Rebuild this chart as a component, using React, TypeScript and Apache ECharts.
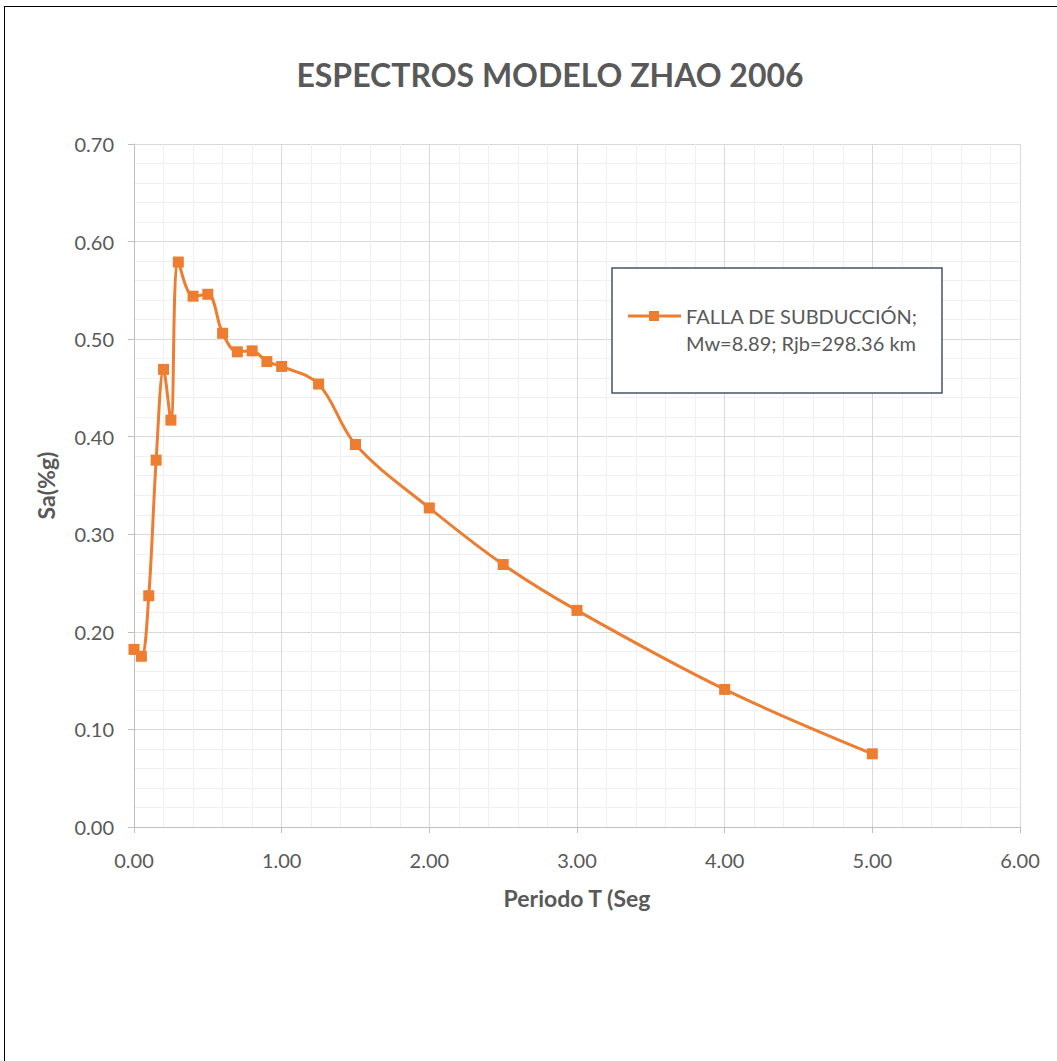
import React, { useEffect, useRef } from "react";
import * as echarts from "echarts";

const periods = [0, 0.05, 0.1, 0.15, 0.2, 0.25, 0.3, 0.4, 0.5, 0.6, 0.7, 0.8, 0.9, 1.0, 1.25, 1.5, 2.0, 2.5, 3.0, 4.0, 5.0];
const saValues = [0.182, 0.175, 0.237, 0.376, 0.469, 0.417, 0.579, 0.544, 0.546, 0.506, 0.487, 0.488, 0.477, 0.472, 0.454, 0.392, 0.327, 0.269, 0.222, 0.141, 0.075];
const seriesName = "FALLA DE SUBDUCCIÓN; Mw=8.89; Rjb=298.36 km";
const legendLines = ["FALLA DE SUBDUCCIÓN;", "Mw=8.89; Rjb=298.36 km"];
const titleText = "ESPECTROS MODELO ZHAO 2006";
const xAxisTitle = "Periodo T (Seg";
const yAxisTitle = "Sa(%g)";

const FONT = "Lato, 'Open Sans', sans-serif";
const GREY = "#595959";
const ORANGE = "#ED7D31";

export default function App() {
  const ref = useRef<HTMLDivElement>(null);
  useEffect(() => {
    if (!ref.current) return;
    const chart = echarts.init(ref.current, undefined, { renderer: "svg" });
    const data = periods.map((t, i) => [t, saValues[i]]);
    chart.setOption({
      animation: false,
      backgroundColor: "#ffffff",
      textStyle: { fontFamily: FONT },
      title: {
        text: titleText,
        left: 545,
        top: 53,
        textAlign: "center",
        textStyle: { fontFamily: FONT, fontSize: 32, fontWeight: "bold", color: GREY },
      },
      grid: { left: 134, right: 37, top: 144, bottom: 234, containLabel: false },
      xAxis: {
        type: "value",
        min: 0,
        max: 6,
        interval: 1,
        name: xAxisTitle,
        nameLocation: "middle",
        nameGap: 59,
        nameTextStyle: { fontFamily: FONT, fontSize: 23, fontWeight: "bold", color: GREY },
        axisLine: { show: true, lineStyle: { color: "#bfbfbf", width: 1 } },
        axisTick: { show: true, length: 6, lineStyle: { color: "#bfbfbf" } },
        axisLabel: { fontFamily: FONT, fontSize: 20, color: GREY, margin: 23, formatter: (v: number) => v.toFixed(2) },
        splitLine: { show: true, lineStyle: { color: "#d9d9d9", width: 1 } },
        minorTick: { show: true, splitNumber: 5, length: 0, lineStyle: { color: "rgba(0,0,0,0)" } },
        minorSplitLine: { show: true, lineStyle: { color: "#f0f0f0", width: 1 } },
      },
      yAxis: {
        type: "value",
        min: 0,
        max: 0.7,
        interval: 0.1,
        name: yAxisTitle,
        nameLocation: "middle",
        nameGap: 77,
        nameRotate: 90,
        nameTextStyle: { fontFamily: FONT, fontSize: 23, fontWeight: "bold", color: GREY },
        axisLine: { show: true, lineStyle: { color: "#bfbfbf", width: 1 } },
        axisTick: { show: true, length: 6, lineStyle: { color: "#bfbfbf" } },
        axisLabel: { fontFamily: FONT, fontSize: 20, color: GREY, margin: 20, formatter: (v: number) => v.toFixed(2) },
        splitLine: { show: true, lineStyle: { color: "#d9d9d9", width: 1 } },
        minorTick: { show: true, splitNumber: 5, length: 0, lineStyle: { color: "rgba(0,0,0,0)" } },
        minorSplitLine: { show: true, lineStyle: { color: "#f0f0f0", width: 1 } },
      },
      series: [
        {
          name: seriesName,
          type: "line",
          data,
          smooth: 0.35,
          symbol: "rect",
          symbolSize: 11,
          lineStyle: { color: ORANGE, width: 3 },
          itemStyle: { color: ORANGE },
          z: 5,
        },
      ],
      graphic: [
        {
          type: "rect",
          shape: { x: 612, y: 268, width: 330, height: 125 },
          style: { fill: "#ffffff", stroke: "#44546A", lineWidth: 1.5 },
          z: 10,
        },
        {
          type: "line",
          shape: { x1: 628, y1: 316, x2: 681, y2: 316 },
          style: { stroke: ORANGE, lineWidth: 3 },
          z: 11,
        },
        {
          type: "rect",
          shape: { x: 649, y: 311, width: 10, height: 10 },
          style: { fill: ORANGE },
          z: 12,
        },
        {
          type: "text",
          x: 686,
          y: 316,
          style: {
            text: legendLines[0],
            fill: GREY,
            font: `20px ${FONT}`,
            verticalAlign: "middle",
          },
          z: 12,
        },
        {
          type: "text",
          x: 686,
          y: 343,
          style: {
            text: legendLines[1],
            fill: GREY,
            font: `20px ${FONT}`,
            verticalAlign: "middle",
          },
          z: 12,
        },
      ],
    });
    return () => chart.dispose();
  }, []);

  return (
    <div style={{ position: "fixed", left: 0, top: 0, width: 1057, height: 1061, background: "#fff", overflow: "hidden" }}>
      <div ref={ref} style={{ position: "absolute", left: 0, top: 0, width: 1057, height: 1061 }} />
      <div
        style={{
          position: "absolute",
          left: 4,
          top: 6,
          width: 1100,
          height: 1100,
          borderTop: "1.5px solid #000",
          borderLeft: "1.5px solid #000",
          pointerEvents: "none",
        }}
      />
    </div>
  );
}
